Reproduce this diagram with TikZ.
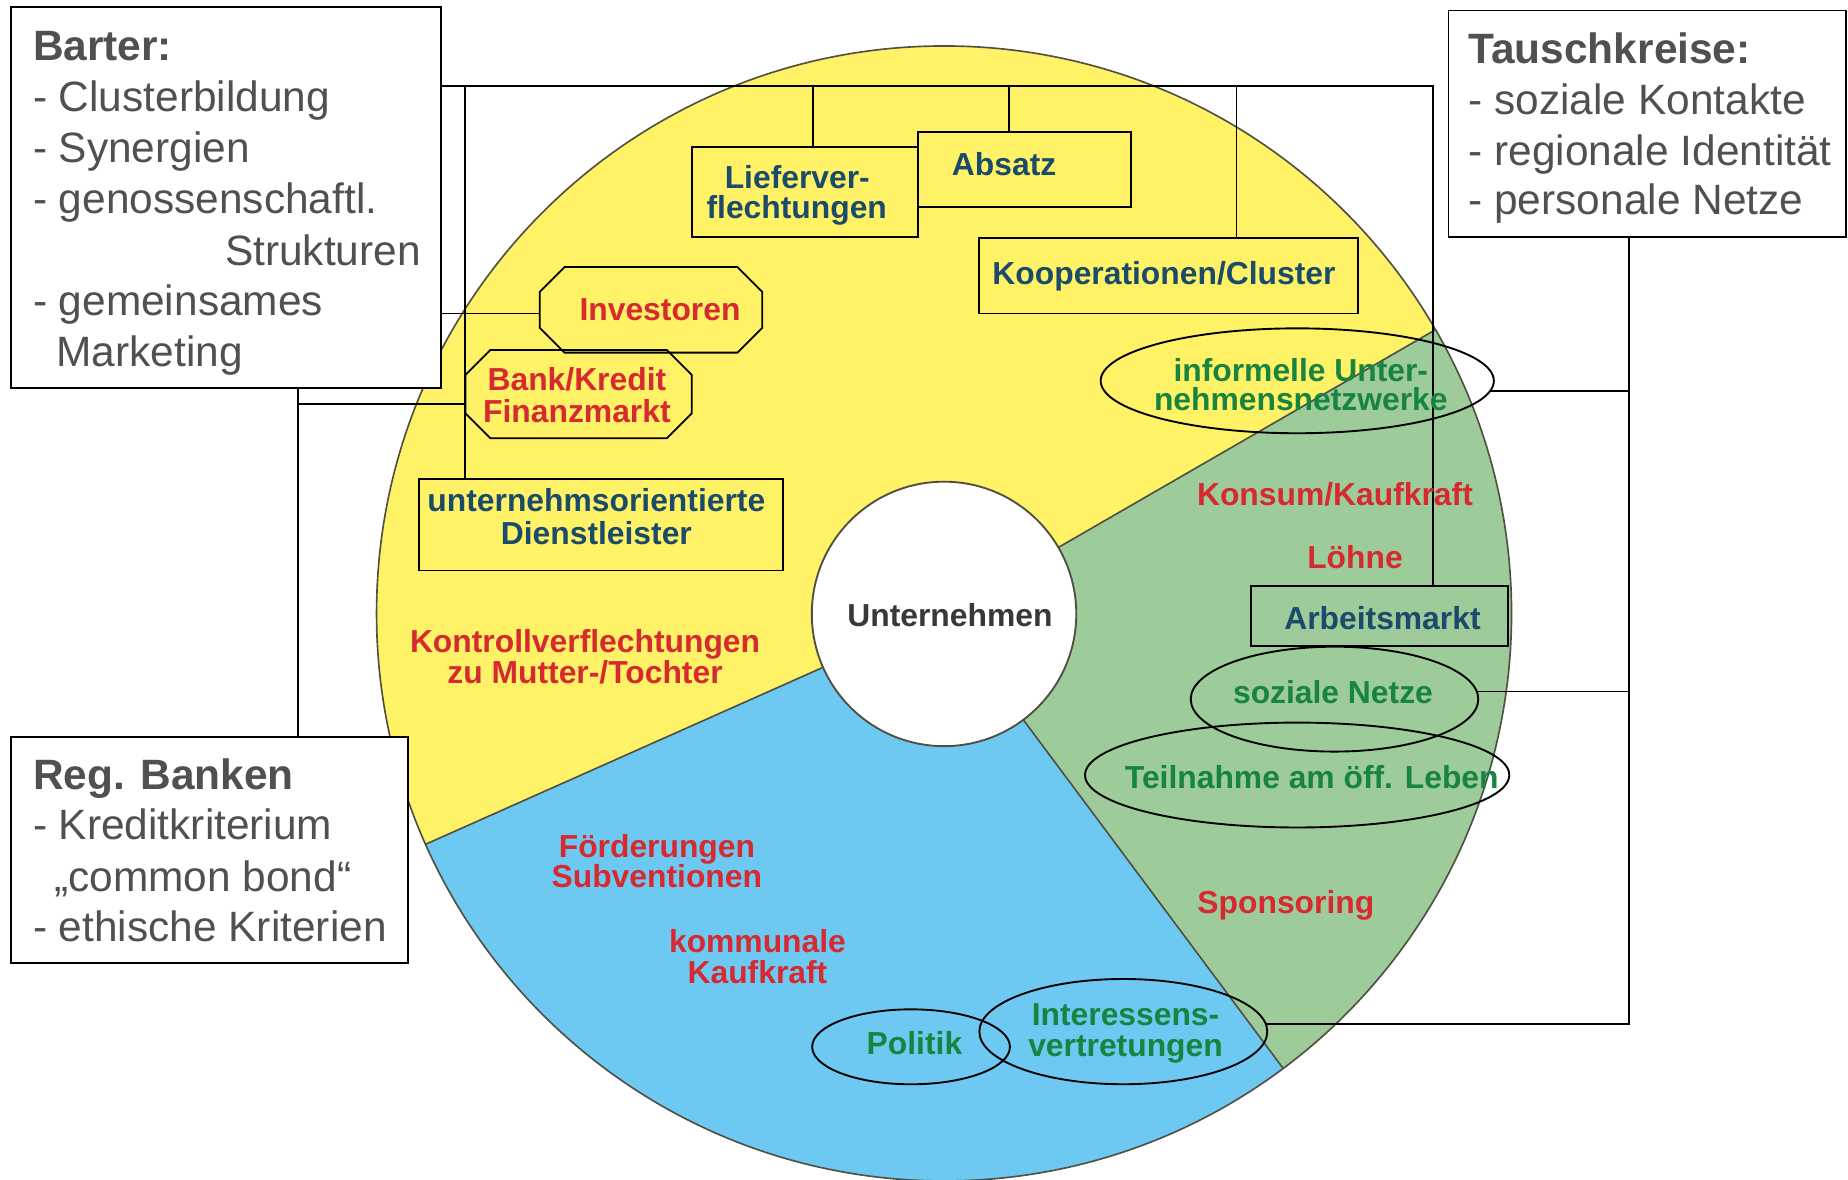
\documentclass[tikz,border=0pt]{standalone}
\usepackage{fontspec}
\setmainfont{Liberation Sans}
\usetikzlibrary{shapes.geometric,calc}
\definecolor{yel}{HTML}{FFF266}
\definecolor{grn}{HTML}{9ECB9A}
\definecolor{blu}{HTML}{6DC9F1}
\definecolor{redT}{HTML}{D62A30}
\definecolor{bluT}{HTML}{1B4B6A}
\definecolor{grnT}{HTML}{178440}
\definecolor{grayT}{HTML}{505050}
\definecolor{untT}{HTML}{383838}
\definecolor{edgeC}{HTML}{505045}
\newcommand{\octpath}[2]{%
  \draw[line width=1.5pt] ([xshift=#2]#1.north west) -- ([xshift=-#2]#1.north east) -- ([yshift=-#2]#1.north east) -- ([yshift=#2]#1.south east) -- ([xshift=-#2]#1.south east) -- ([xshift=#2]#1.south west) -- ([yshift=#2]#1.south west) -- ([yshift=-#2]#1.north west) -- cycle;}
\begin{document}
\begin{tikzpicture}[x=1pt,y=-1pt,
  conn/.style={line width=1.3pt, draw=black},
  sepline/.style={line width=1.4pt, draw=edgeC},
  frame/.style={draw=black, line width=1.5pt, rectangle, inner sep=0pt, outer sep=0pt},
  infobox/.style={frame, fill=white},
  ell/.style={draw=black, line width=1.6pt, ellipse, inner sep=0pt, outer sep=0pt},
  octo/.style={rectangle, inner sep=0pt, outer sep=0pt},
  lbl/.style={anchor=base, inner sep=0pt, outer sep=0pt, font=\fontsize{27}{27}\selectfont\bfseries},
  redl/.style={lbl, text=redT},
  blul/.style={lbl, text=bluT},
  grnl/.style={lbl, text=grnT},
  boxtxt/.style={anchor=base west, inner sep=0pt, outer sep=0pt, text=grayT, font=\fontsize{36}{43}\selectfont},
  boxhead/.style={boxtxt, font=\fontsize{36}{43}\selectfont\bfseries},
]
\useasboundingbox (0,0) rectangle (1568,1001);
\fill[white] (0,0) rectangle (1568,1001);

% sectors
\coordinate (C) at (801,520.5);
\fill[yel] (C) -- +(156:481.5) arc[start angle=156,end angle=330,radius=481.5] -- cycle;
\fill[grn] (C) -- +(330:481.5) arc[start angle=330,end angle=413.3,radius=481.5] -- cycle;
\fill[blu] (C) -- +(53.3:481.5) arc[start angle=53.3,end angle=156,radius=481.5] -- cycle;
\draw[sepline] (C) -- +(156:481.5);
\draw[sepline] (C) -- +(330:481.5);
\draw[sepline] (C) -- +(53.3:481.5);
\draw[sepline] (C) circle[radius=481.5];
\node[circle, draw=edgeC, line width=1.6pt, fill=white, minimum size=224.4pt, inner sep=0pt, outer sep=0pt] (unt) at (801,520.9) {};

% info boxes
\node[infobox, minimum width=364.6pt, minimum height=322.8pt] (barter) at (191.7,167.6) {};
\node[infobox, minimum width=337pt, minimum height=192pt] (tausch) at (1397.5,105) {};
\node[infobox, minimum width=337.2pt, minimum height=192pt] (regb) at (177.9,721) {};

% inner boxes
\node[frame, minimum width=192pt, minimum height=77pt] (lief) at (683,162.9) {};
\node[frame, minimum width=180.3pt, minimum height=64.2pt] (abs) at (869.2,143.8) {};
\node[frame, minimum width=321.2pt, minimum height=64pt] (koop) at (991.5,234) {};
\node[frame, minimum width=309pt, minimum height=77.4pt] (dienst) at (510,445.3) {};
\node[frame, minimum width=218.3pt, minimum height=51.2pt] (arb) at (1170.65,522.5) {};
\node[octo, minimum width=188.7pt, minimum height=72.6pt] (inv) at (552.4,262.9) {};
\node[octo, minimum width=192pt, minimum height=74.7pt] (bank) at (491,334.4) {};
\octpath{inv}{21pt}
\octpath{bank}{21pt}

% ellipses
\node[ell, minimum width=333.6pt, minimum height=89pt] (inf) at (1100.7,323.1) {};
\node[ell, minimum width=244pt, minimum height=89pt] (soz) at (1132.3,593.2) {};
\node[ell, minimum width=360pt, minimum height=89pt] (teil) at (1100.6,657.6) {};
\node[ell, minimum width=167.8pt, minimum height=63.6pt] (pol) at (773,888.2) {};
\node[ell, minimum width=244.3pt, minimum height=89.3pt] (inter) at (953.1,875.3) {};

% connectors
\coordinate (bus) at (1216,73);
\draw[conn] (barter.east |- bus) -- (bus) -- (bus |- arb.north);
\coordinate (xl) at (689.8,73);
\draw[conn] (xl) -- (xl |- lief.north);
\coordinate (xa) at (856,73);
\draw[conn] (xa) -- (xa |- abs.north);
\coordinate (xk) at (1049,73);
\draw[conn] (xk) -- (xk |- koop.north);
\coordinate (xd) at (394.7,73);
\draw[conn] (xd) -- (xd |- dienst.north);
\coordinate (yi) at (0,266);
\draw[conn] (barter.east |- yi) -- (inv.west |- yi);
\coordinate (xb) at (253,343);
\draw[conn] (xb |- barter.south) -- (xb |- regb.north);
\draw[conn] (xb) -- (bank.west |- xb);
\coordinate (xt) at (1382,868.9);
\draw[conn] (xt |- tausch.south) -- (xt |- inter.3) -- (inter.3);
\draw[conn] (inf.357.8) -- (inf.357.8 -| xt);
\draw[conn] (soz.3) -- (soz.3 -| xt);

% info texts
\node[boxhead] (b0) at (28,51) {Barter:};
\node[boxtxt] (b1) at (28,95) {- Clusterbildung};
\node[boxtxt] (b2) at (28,138) {- Synergien};
\node[boxtxt] (b3) at (28,181) {- genossenschaftl.};
\node[boxtxt] (b4) at (191,225) {Strukturen};
\node[boxtxt] (b5) at (28,267.5) {- gemeinsames};
\node[boxtxt] (b6) at (48,311) {Marketing};

\node[boxhead] (t0) at (1246,54) {Tauschkreise:};
\node[boxtxt] (t1) at (1246,97) {- soziale Kontakte};
\node[boxtxt] (t2) at (1246,140) {- regionale Identität};
\node[boxtxt] (t3) at (1246,182) {- personale Netze};

\node[boxhead] (r0) at (28,669.6) {Reg. Banken};
\node[boxtxt] (r1) at (28,712.7) {- Kreditkriterium};
\node[boxtxt] (r2) at (46,756.6) {„common bond“};
\node[boxtxt] (r3) at (28,799) {- ethische Kriterien};

% labels
\node[blul] (liefT1) at (676.5,159.8) {Lieferver-};
\node[blul] (liefT2) at (676,185.3) {flechtungen};
\node[blul] (absT) at (852,149.3) {Absatz};
\node[blul] (koopT) at (987.6,241.8) {Kooperationen/Cluster};
\node[redl] (invT) at (560,272) {Investoren};
\node[redl] (bankT1) at (489.5,331.5) {Bank/Kredit};
\node[redl] (bankT2) at (489.5,358.6) {Finanzmarkt};
\node[blul] (dienstT1) at (506,434) {unternehmsorientierte};
\node[blul] (dienstT2) at (506,462.4) {Dienstleister};
\node[redl] (kontrT1) at (496.4,553.8) {Kontrollverflechtungen};
\node[redl] (kontrT2) at (496.4,579.8) {zu Mutter-/Tochter};
\node[lbl, text=untT] (untT) at (806,531.7) {Unternehmen};
\node[grnl] (infT1) at (1103.7,323.8) {informelle Unter-};
\node[grnl] (infT2) at (1103.7,348.7) {nehmensnetzwerke};
\node[redl] (konT) at (1132.7,428.5) {Konsum/Kaufkraft};
\node[redl] (loehT) at (1149.7,482.2) {Löhne};
\node[blul] (arbT) at (1173,534.5) {Arbeitsmarkt};
\node[grnl] (sozT) at (1131,596.8) {soziale Netze};
\node[grnl] (teilT) at (1113,668.9) {Teilnahme am öff. Leben};
\node[redl] (sponT) at (1091,775.5) {Sponsoring};
\node[redl] (foerT1) at (557.4,727.4) {Förderungen};
\node[redl] (foerT2) at (557.3,752.9) {Subventionen};
\node[redl] (kommT1) at (642.7,808.3) {kommunale};
\node[redl] (kommT2) at (642.7,834.3) {Kaufkraft};
\node[grnl] (polT) at (775.9,895.1) {Politik};
\node[grnl] (interT1) at (955,869.7) {Interessens-};
\node[grnl] (interT2) at (955,896) {vertretungen};
\end{tikzpicture}
\end{document}
